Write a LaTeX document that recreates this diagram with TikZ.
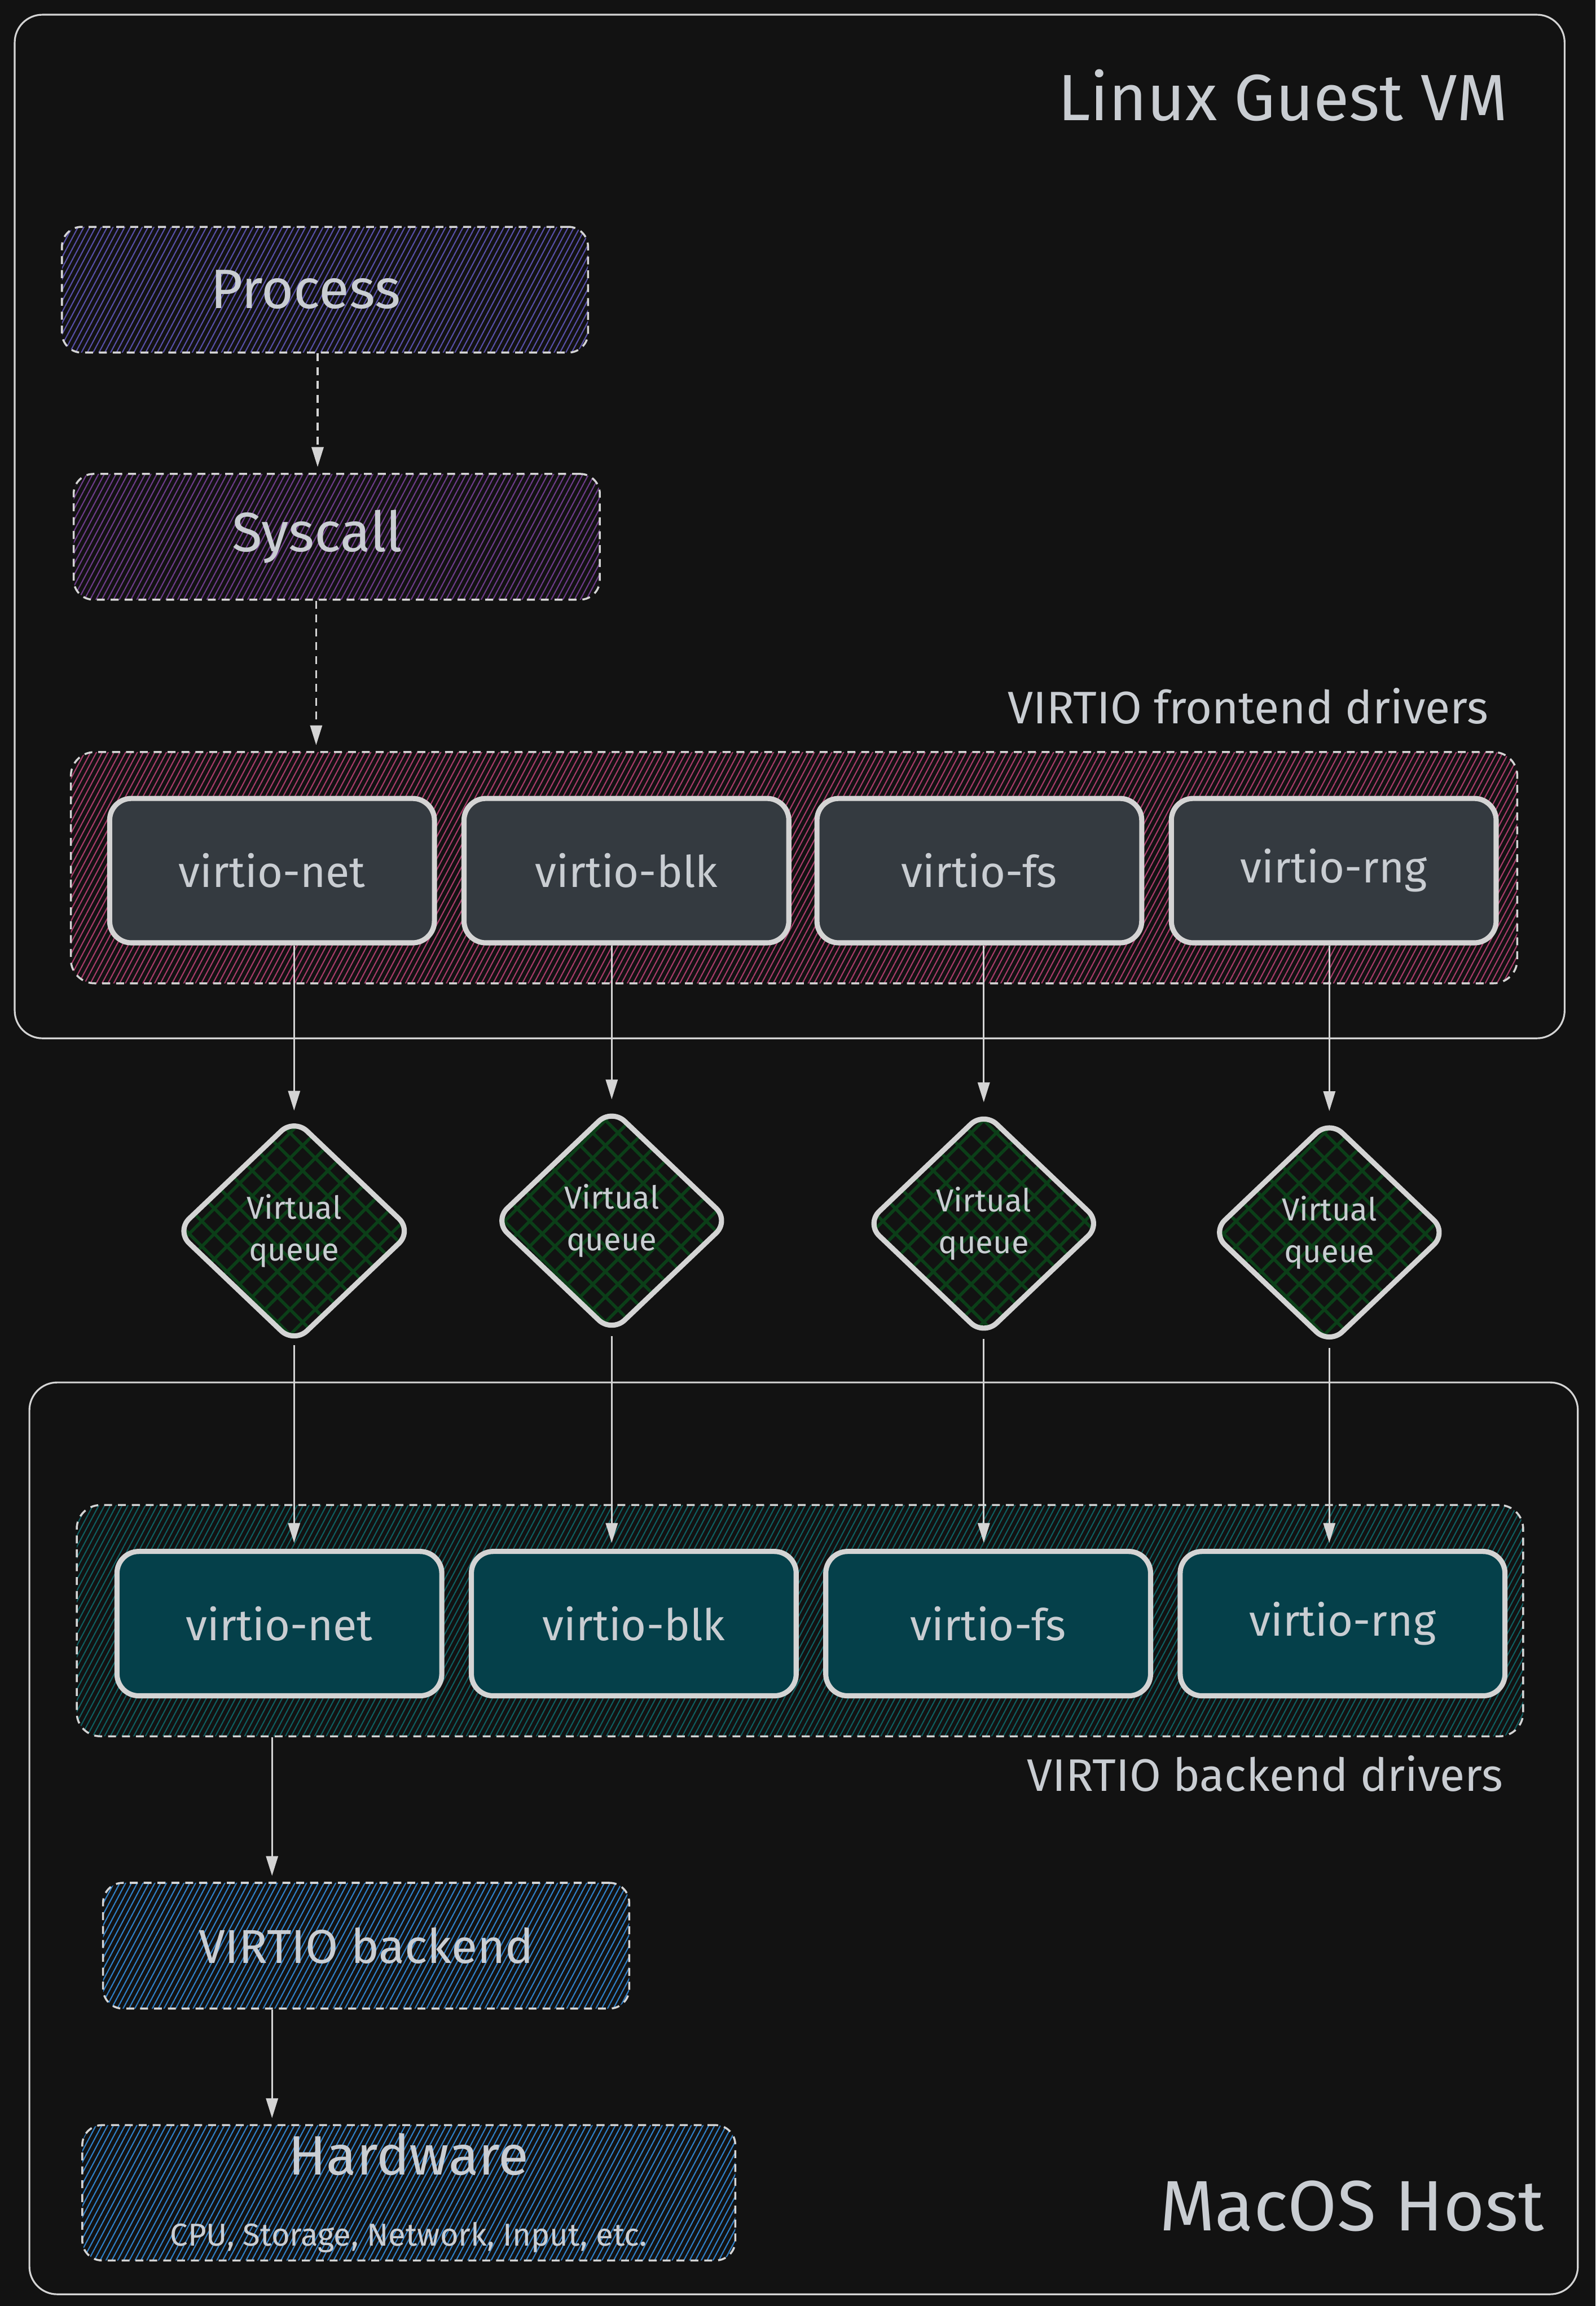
\documentclass[tikz,border=0pt]{standalone}
\usepackage{fontspec}
\setmainfont{Fira Sans}
\usepackage{xcolor}
\usetikzlibrary{
    arrows.meta,
    positioning,
    shapes.geometric,
    patterns.meta
}
\definecolor{bgdark}{HTML}{121212}
\definecolor{inkgray}{HTML}{C9CDD2}
\definecolor{edgegray}{HTML}{D4D4D4}
\definecolor{procblue}{HTML}{5850A8}
\definecolor{syspurple}{HTML}{6E3C8A}
\definecolor{frontpink}{HTML}{A83C6A}
\definecolor{backteal}{HTML}{0F5E60}
\definecolor{hostblue}{HTML}{3080C8}
\definecolor{frontfill}{HTML}{343A40}
\definecolor{backfill}{HTML}{05404A}
\definecolor{queuegreen}{HTML}{0B3F18}

\begin{document}
\begin{tikzpicture}[
    x=0.02607cm, y=-0.02607cm,
    frame/.style={draw=edgegray, line width=0.9pt, rounded corners=14pt},
    hatched/.style={pattern={Lines[angle=62,distance=2.6pt,line width=0.6pt]}, pattern color=#1},
    hatchbox/.style={rectangle, rounded corners=10pt, draw=edgegray, line width=1pt, dash pattern=on 4pt off 3pt, text=inkgray, minimum width=9.33cm, minimum height=2.23cm, font=\fontsize{28}{32}\selectfont},
    group/.style={rectangle, rounded corners=12pt, draw=edgegray, line width=1pt, dash pattern=on 4pt off 3pt, minimum width=25.65cm, minimum height=4.1cm},
    driver/.style={rectangle, rounded corners=11pt, draw=edgegray, line width=2.6pt, minimum width=5.76cm, minimum height=2.56cm, text=inkgray, font=\fontsize{22}{26}\selectfont},
    vqueue/.style={diamond, rounded corners=9pt, draw=edgegray, line width=2.6pt, minimum width=4.2cm, minimum height=4.0cm, inner sep=0pt, align=center, text=inkgray, font=\fontsize{16}{21}\selectfont, pattern={Hatch[angle=45,distance=9pt,line width=1.6pt]}, pattern color=queuegreen},
    caption/.style={text=inkgray, anchor=east},
    arrow/.style={-{Triangle[length=10pt,width=6pt]}, draw=edgegray, line width=0.9pt, shorten >=3pt},
    dasharrow/.style={arrow, dash pattern=on 4pt off 3pt}
]

% Canvas
\useasboundingbox (0,0) rectangle (1085,1568);
\fill[bgdark] (0,0) rectangle (1085,1568);

% Linux Guest VM
\draw[frame] (10,10) rectangle (1064,706);
\node[caption, font=\fontsize{33}{38}\selectfont] (guestlbl) at (1030,65) {Linux Guest VM};

\node[hatchbox, hatched=procblue] (proc) at (221,197) {\hspace*{-0.7em}Process};
\node[hatchbox, hatched=syspurple] (sys) at (229,365) {\hspace*{-0.7em}Syscall};
\draw[dasharrow] (proc.south -| 216,0) -- (sys.north -| 216,0);

% Frontend drivers
\node[caption, font=\fontsize{23}{26}\selectfont] (frontlbl) at (1017,480) {VIRTIO frontend drivers};
\node[group, hatched=frontpink] (fdrv) at (540,590) {};
\draw[dasharrow] (sys.south -| 215,0) -- (fdrv.north -| 215,0);

\foreach \i/\x/\lbl in {1/185/virtio-net, 2/426/virtio-blk, 3/666/virtio-fs, 4/907/virtio-rng} {
    \node[driver, fill=frontfill] (f\i) at (\x,592) {\lbl};
}

% MacOS Host
\draw[frame] (20,940) rectangle (1073,1560);
\node[caption, font=\fontsize{36}{40}\selectfont] (hostlbl) at (1055,1500) {MacOS Host};

% Backend drivers
\node[group, hatched=backteal] (bdrv) at (544,1102) {};
\foreach \i/\x/\lbl in {1/190/virtio-net, 2/431/virtio-blk, 3/672/virtio-fs, 4/913/virtio-rng} {
    \node[driver, fill=backfill] (b\i) at (\x,1104) {\lbl};
}
\node[caption, font=\fontsize{23}{26}\selectfont] (backlbl) at (1027,1206) {VIRTIO backend drivers};

% Virtual queues
\foreach \i/\x/\y in {1/200/837, 2/416/830, 3/669/832, 4/904/838} {
    \node[vqueue] (q\i) at (\x,\y) {Virtual\\queue};
    \draw[arrow] (q\i |- f\i.south) -- (q\i.north);
    \draw[arrow] (q\i.south) -- (q\i |- b\i.north);
}

% Host side
\node[hatchbox, hatched=hostblue, font=\fontsize{24}{28}\selectfont] (vback) at (249,1323) {VIRTIO backend};
\node[hatchbox, hatched=hostblue, minimum width=11.58cm, minimum height=2.40cm, align=center, font=\fontsize{28}{30}\selectfont] (hw) at (278,1491) {Hardware\\[6pt]{\fontsize{16}{18}\selectfont CPU, Storage, Network, Input, etc.}};

\draw[arrow] (bdrv.south -| 185,0) -- (vback.north -| 185,0);
\draw[arrow] (vback.south -| 185,0) -- (hw.north -| 185,0);

\end{tikzpicture}
\end{document}
